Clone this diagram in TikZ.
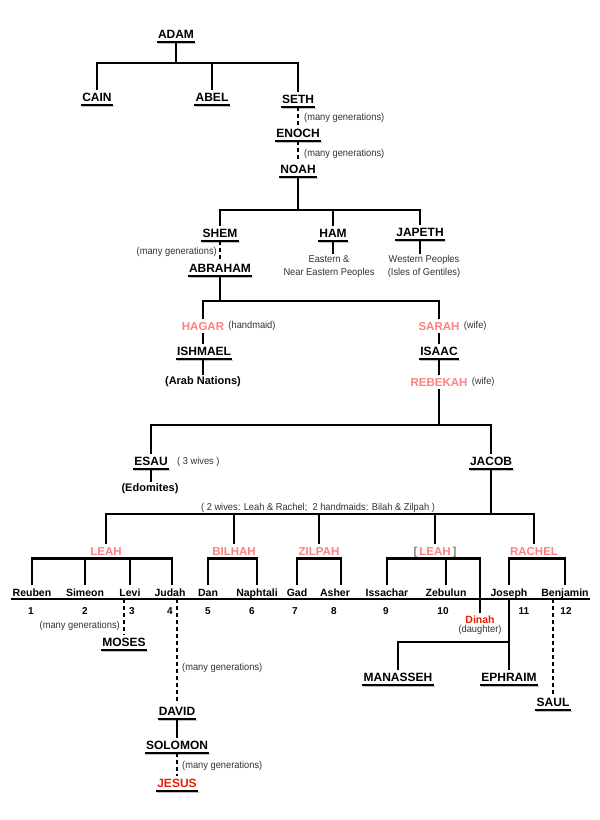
\documentclass[tikz,border=0pt]{standalone}
\usepackage{fontspec}
\setmainfont{Liberation Sans}
\newfontfamily\cond[FakeStretch=0.93]{Liberation Sans}
\definecolor{pinkw}{HTML}{FF7F7F}
\definecolor{redj}{HTML}{E82000}
\definecolor{notec}{HTML}{333333}
\begin{document}
\begin{tikzpicture}[x=1pt,y=-1pt,
  ln/.style={line width=2.6pt},
  dsh/.style={line width=2.6pt, dash pattern=on 4pt off 3pt},
  rowline/.style={line width=2pt},
  uline/.style={line width=2pt, black},
  ushadow/.style={line width=1.6pt, gray!50},
  nm/.style={font=\bfseries\fontsize{12}{14}\selectfont, inner xsep=1pt, inner ysep=3pt,
    text height=8.6pt, text depth=0pt,
    append after command={([shift={(1pt,-2pt)}]\tikzlastnode.south west) edge[ushadow] ([shift={(1pt,-2pt)}]\tikzlastnode.south east)
      (\tikzlastnode.south west) edge[uline] (\tikzlastnode.south east)}},
  pk/.style={font=\bfseries\fontsize{11.5}{13}\selectfont, text=pinkw, inner xsep=1pt, inner ysep=3pt,
    text height=8.3pt, text depth=0pt},
  ch/.style={font=\bfseries\fontsize{10.5}{12}\selectfont, inner xsep=1pt, inner ysep=2.5pt,
    text height=8pt, text depth=2.2pt, anchor=base},
  num/.style={font=\bfseries\fontsize{10}{12}\selectfont, inner sep=1pt},
  grp/.style={font=\bfseries\fontsize{11}{13}\selectfont, inner sep=2pt},
  note/.style={font=\cond\fontsize{10}{12}\selectfont, text=notec, inner sep=1pt},
  note2/.style={font=\cond\fontsize{10}{13}\selectfont, text=notec, inner sep=1pt, align=center, anchor=north}
]
\fill[white] (0,0) rectangle (600,820);
\useasboundingbox (0,0) rectangle (600,820);

% ---- name nodes ----
\node[nm] (adam) at (176,34) {ADAM};
\node[nm] (cain) at (97,97) {CAIN};
\node[nm] (abel) at (212,97) {ABEL};
\node[nm] (seth) at (298,99) {SETH};
\node[nm] (enoch) at (298,133) {ENOCH};
\node[nm] (noah) at (298,169) {NOAH};
\node[nm] (shem) at (220,233) {SHEM};
\node[nm] (ham) at (333,233) {HAM};
\node[nm] (japeth) at (420,232) {JAPETH};
\node[nm] (abraham) at (220,268) {ABRAHAM};
\node[nm] (ishmael) at (204,351) {ISHMAEL};
\node[nm] (isaac) at (439,351) {ISAAC};
\node[nm] (esau) at (151,461) {ESAU};
\node[nm] (jacob) at (491,461) {JACOB};
\node[nm] (moses) at (124,642) {MOSES};
\node[nm] (david) at (177,711) {DAVID};
\node[nm] (solomon) at (177,745) {SOLOMON};
\node[nm, text=redj] (jesus) at (177,783) {JESUS};
\node[nm] (manasseh) at (398,677) {MANASSEH};
\node[nm] (ephraim) at (509,677) {EPHRAIM};
\node[nm] (saul) at (553,702) {SAUL};

% ---- wives ----
\node[pk] (hagar) at (203,326) {HAGAR};
\node[pk] (sarah) at (439,326) {SARAH};
\node[pk] (rebekah) at (439,382) {REBEKAH};
\node[pk] (leah1) at (106,551) {LEAH};
\node[pk] (bilhah) at (234,551) {BILHAH};
\node[pk] (zilpah) at (319,551) {ZILPAH};
\node[pk] (leah2) at (435,551) {{\color{gray}[}\,LEAH\,{\color{gray}]}};
\node[pk] (rachel) at (534,551) {RACHEL};

% ---- notes ----
\node[note, anchor=west] (mg1) at (303,118) {(many generations)};
\node[note, anchor=west] (mg2) at (303,154) {(many generations)};
\node[note, anchor=east] (mg3) at (218,252) {(many generations)};
\node[note2] (hamp) at (329,254) {Eastern \&\\Near Eastern Peoples};
\node[note2] (japp) at (424,254) {Western Peoples\\(Isles of Gentiles)};
\node[note, anchor=west] (hagarn) at ([xshift=2pt]hagar.east) {(handmaid)};
\node[note, anchor=west] (sarahn) at ([xshift=2pt]sarah.east) {(wife)};
\node[note, anchor=west] (rebekahn) at ([xshift=2pt]rebekah.east) {(wife)};
\node[grp] (arab) at (203,382) {(Arab Nations)};
\node[note, anchor=west] (esaun) at (176,462) {( 3 wives )};
\node[grp] (edom) at (150,489) {(Edomites)};
\node[note] (jacobn) at (318,508) {( 2 wives: Leah \& Rachel;\ \ 2 handmaids: Bilah \& Zilpah )};
\node[note, anchor=east] (mg4) at (121,626) {(many generations)};
\node[note, anchor=west] (mg5) at (181,668) {(many generations)};
\node[note, anchor=west] (mg6) at (181,766) {(many generations)};

% ---- sons of Jacob ----
\node[ch] (reuben) at (32,596) {Reuben};
\node[ch] (simeon) at (85,596) {Simeon};
\node[ch] (levi) at (130,596) {Levi};
\node[ch] (judah) at (170,596) {Judah};
\node[ch] (dan) at (208,596) {Dan};
\node[ch] (naphtali) at (257,596) {Naphtali};
\node[ch] (gad) at (297,596) {Gad};
\node[ch] (asher) at (335,596) {Asher};
\node[ch] (issachar) at (387,596) {Issachar};
\node[ch] (zebulun) at (446,596) {Zebulun};
\node[ch] (joseph) at (509,596) {Joseph};
\node[ch] (benjamin) at (565,596) {Benjamin};
\node[ch, text=redj] (dinah) at (480,623.5) {Dinah};
\node[note] (dinahn) at (480,630) {(daughter)};

\node[num] (n1) at (31,611) {1};
\node[num] (n2) at (85,611) {2};
\node[num] (n3) at (132,611) {3};
\node[num] (n4) at (170,611) {4};
\node[num] (n5) at (208,611) {5};
\node[num] (n6) at (252,611) {6};
\node[num] (n7) at (295,611) {7};
\node[num] (n8) at (334,611) {8};
\node[num] (n9) at (386,611) {9};
\node[num] (n10) at (443,611) {10};
\node[num] (n11) at (524,611) {11};
\node[num] (n12) at (566,611) {12};

% ---- connectors ----
\coordinate (b1) at (176,63);
\draw[ln] (adam.south) -- (b1);
\draw[ln] (cain.north) |- (b1) -| (seth.north);
\draw[ln] (abel.north) -- (abel.north |- b1);
\draw[dsh] (seth.south) -- (enoch.north);
\draw[dsh] (enoch.south) -- (noah.north);

\coordinate (b2) at (298,210);
\draw[ln] (noah.south) -- (b2);
\draw[ln] (shem.north) |- (b2) -| (japeth.north);
\draw[ln] (ham.north) -- (ham.north |- b2);
\draw[dsh] (shem.south) -- (abraham.north);
\draw[ln] (ham.south) -- (ham.south |- hamp.north);
\draw[ln] (japeth.south) -- (japeth.south |- japp.north);

\coordinate (b3) at (220,301);
\draw[ln] (abraham.south) -- (b3);
\draw[ln] (hagar.north) |- (b3) -| (sarah.north);
\draw[ln] (hagar.south) -- (hagar.south |- ishmael.north);
\draw[ln] (ishmael.south -| hagar.south) -- (hagar.south |- arab.north);
\draw[ln] (sarah.south) -- (isaac.north);
\draw[ln] (isaac.south) -- (rebekah.north);

\coordinate (b4) at (439,425);
\draw[ln] (rebekah.south) -- (b4);
\draw[ln] (esau.north) |- (b4) -| (jacob.north);
\draw[ln] (esau.south) -- (esau.south |- edom.north);

\coordinate (b5) at (491,514);
\draw[ln] (jacob.south) -- (b5);
\draw[ln] (leah1.north) |- (b5) -| (rachel.north);
\draw[ln] (bilhah.north) -- (bilhah.north |- b5);
\draw[ln] (zilpah.north) -- (zilpah.north |- b5);
\draw[ln] (leah2.north) -- (leah2.north |- b5);

\draw[ln] (reuben.north) |- (leah1.south) -| ([xshift=2pt]judah.north);
\draw[ln] (simeon.north) -- (simeon.north |- leah1.south);
\draw[ln] (levi.north) -- (levi.north |- leah1.south);
\draw[ln] (dan.north) |- (bilhah.south) -| (naphtali.north);
\draw[ln] (gad.north) |- (zilpah.south) -| ([xshift=6pt]asher.north);
\draw[ln] (issachar.north) |- (leah2.south) -| (dinah.north);
\draw[ln] (zebulun.north) -- (zebulun.north |- leah2.south);
\draw[ln] (joseph.north) |- (rachel.south) -| (benjamin.north);

\coordinate (rowL) at (11,599);
\coordinate (rowR) at (590,599);
\draw[rowline] (rowL) -- (rowR);

\draw[dsh] (moses.north |- rowL) -- (moses.north);
\draw[dsh] (david.north |- rowL) -- (david.north);
\draw[ln] (david.south) -- (solomon.north);
\draw[dsh] (solomon.south) -- (jesus.north);
\coordinate (jb) at (509,642);
\draw[ln] (ephraim.north |- rowL) -- (ephraim.north);
\draw[ln] (manasseh.north) |- (jb);
\draw[dsh] (saul.north |- rowL) -- (saul.north);
\end{tikzpicture}
\end{document}
